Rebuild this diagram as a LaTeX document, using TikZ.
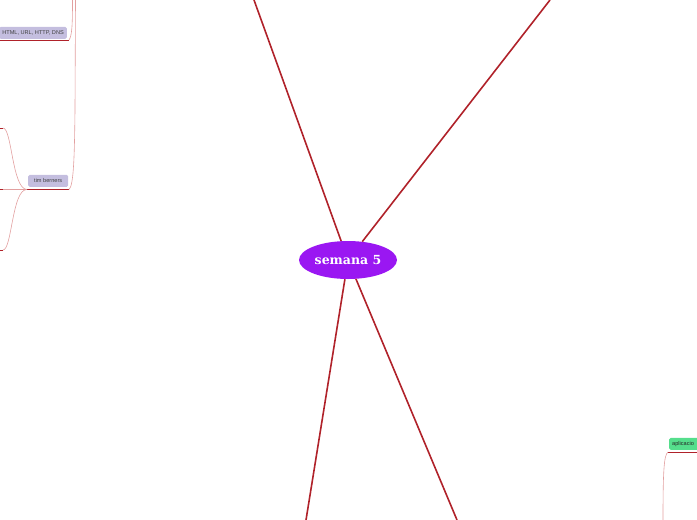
\documentclass[tikz,border=0pt]{standalone}
\usepackage{fontspec}
\setmainfont{Liberation Sans}
\newfontfamily\titlefont{DejaVu Serif}
\usetikzlibrary{shapes.geometric}
\definecolor{mainred}{HTML}{B0222A}
\definecolor{thinpink}{HTML}{E2A0A0}
\definecolor{purp}{HTML}{9A17F2}
\definecolor{lav}{HTML}{C4BEDF}
\definecolor{grn}{HTML}{55DE8C}
\begin{document}
\begin{tikzpicture}[x=1pt,y=-1pt,
  mainline/.style={line width=1.6pt, draw=mainred},
  thinline/.style={line width=0.6pt, draw=thinpink},
  uline/.style={line width=1pt, draw=mainred},
  topicbox/.style={rounded corners=1.5pt, inner xsep=3pt, inner ysep=0pt, minimum height=12pt,
     font=\fontsize{5.6}{6.5}\selectfont, text=black!75},
  centre/.style={ellipse, fill=purp, minimum width=98pt, minimum height=38pt, inner sep=0pt,
     font=\titlefont\bfseries\fontsize{12.5}{15}\selectfont, text=white}
]
\path[use as bounding box] (0,0) rectangle (697,520);
\clip (0,0) rectangle (697,520);

% edge coordinates
\coordinate (t1) at (254,0);
\coordinate (t2) at (550,0);
\coordinate (b1) at (306,520);
\coordinate (b2) at (457,520);
\coordinate (ptop1) at (72.5,0);
\coordinate (ptop2) at (75.5,0);

% central node
\node[centre] (c) at (348,260) {\raisebox{-1pt}{semana 5}};
\draw[mainline] (c) -- (t1);
\draw[mainline] (c) -- (t2);
\draw[mainline] (c) -- (b1);
\draw[mainline] (c) -- (b2);

% HTML node
\node[topicbox, fill=lav, anchor=south east] (html) at (67,39) {HTML, URL, HTTP, DNS};
\coordinate (hend) at (69,40);
\draw[uline] (html.south west |- hend) -- (hend);
\draw[thinline] (hend) .. controls (72,36) and (72.5,25) .. (ptop1);

% tim berners node
\node[topicbox, fill=lav, anchor=south west, minimum width=40pt] (tim) at (28,187) {tim berners};
\coordinate (tend) at (69,189.5);
\coordinate (tstart) at (27,189.5);
\draw[uline] (tstart) -- (tend);
\draw[thinline] (tend) .. controls (74,186) and (74.5,150) .. (75,110) -- (ptop2);

% children of tim berners
\coordinate (k1) at (3,128);
\coordinate (k2) at (3,189.5);
\coordinate (k3) at (3,250);
\draw[thinline] (tstart) .. controls (12,189) and (12,128) .. (k1);
\draw[thinline] (tstart) -- (k2);
\draw[thinline] (tstart) .. controls (12,189) and (12,250) .. (k3);
\draw[uline] (k1) -- ++(-5,0);
\draw[uline] (k2) -- ++(-5,0);
\draw[uline] (k3) -- ++(-5,0);

% aplicacio node (cut by the right edge)
\node[topicbox, fill=grn, anchor=south west, text=black!85, inner xsep=0pt, minimum width=34pt, align=left, text width=34pt] (apl) at (669,450) {\hspace{3pt}aplicacio};
\coordinate (aend) at (668,452);
\coordinate (abot) at (663,520);
\draw[uline] (aend) -- (apl.south east |- aend);
\draw[thinline] (aend) .. controls (664,455) and (663,470) .. (abot);
\end{tikzpicture}
\end{document}
